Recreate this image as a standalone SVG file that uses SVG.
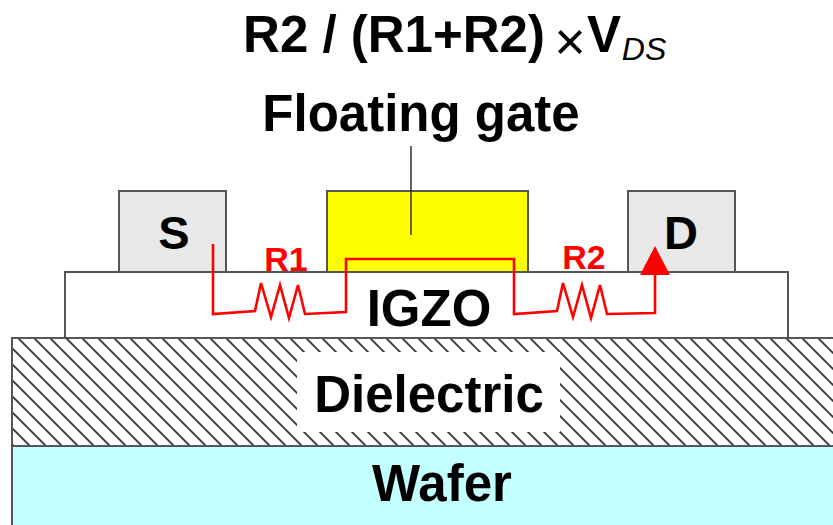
<svg xmlns="http://www.w3.org/2000/svg" width="833" height="525" viewBox="0 0 833 525">
<style>
text{font-family:"Liberation Sans",Arial,sans-serif;font-weight:bold;fill:#000;text-anchor:middle}
.big{font-size:51px}
.mid{font-size:47px}
.box{stroke:#555;stroke-width:2}
.red{fill:#ff0000;font-size:34px}
.wire{fill:none;stroke:#ff0000;stroke-width:2.6;stroke-linejoin:miter}
</style>
<defs>
<pattern id="hatch" width="16" height="16" patternUnits="userSpaceOnUse">
<path d="M-4 -4L20 20M-4 12L4 20M12 -4L20 4" stroke="#333" stroke-width="1.8" fill="none"/>
</pattern>
</defs>
<rect width="833" height="525" fill="#fff"/>
<g id="wafer"><rect class="box" x="12" y="446" width="825" height="83" fill="#c4ffff"/><text class="big" x="442" y="501">Wafer</text></g>
<g id="dielectric"><rect class="box" x="12" y="338" width="825" height="108" fill="url(#hatch)"/><rect x="297" y="352" width="263" height="80" fill="#fff"/><text class="big" x="429" y="412">Dielectric</text></g>
<g id="igzo"><rect class="box" x="65" y="272" width="723" height="66" fill="#fff"/><text class="big" x="429" y="326">IGZO</text></g>
<g id="source"><rect class="box" x="119" y="191" width="107" height="81" fill="#e8e8e8"/><text class="mid" x="174" y="249">S</text></g>
<g id="gate"><rect class="box" x="327" y="191" width="201" height="81" fill="#ffff00"/></g>
<g id="drain"><rect class="box" x="628" y="191" width="107" height="81" fill="#e8e8e8"/><text class="mid" x="681" y="249">D</text></g>
<g id="connectors">
<path d="M411 146V235" stroke="#333" stroke-width="1.5" fill="none"/>
<path class="wire" d="M213 244V314L255 311L261 283L271 317L280 285L289 318L298 285L305 314L346 312V259H514V314L557 311L563 283L573 317L582 285L591 318L600 285L607 314L655 313V272"/>
<path d="M655 246L640 275H670Z" fill="#ff0000"/>
</g>
<g id="labels">
<text class="big" x="394" y="52">R2 / (R1+R2)</text>
<text x="570" y="60" style="font-size:54px;font-weight:normal">×</text>
<text class="big" x="604" y="52">V</text>
<text x="644" y="60" style="font-size:32px;font-weight:normal;font-style:italic">DS</text>
<text class="big" x="421" y="131">Floating gate</text>
<text class="red" x="286" y="271">R1</text>
<text class="red" x="584" y="269">R2</text>
</g>
</svg>
